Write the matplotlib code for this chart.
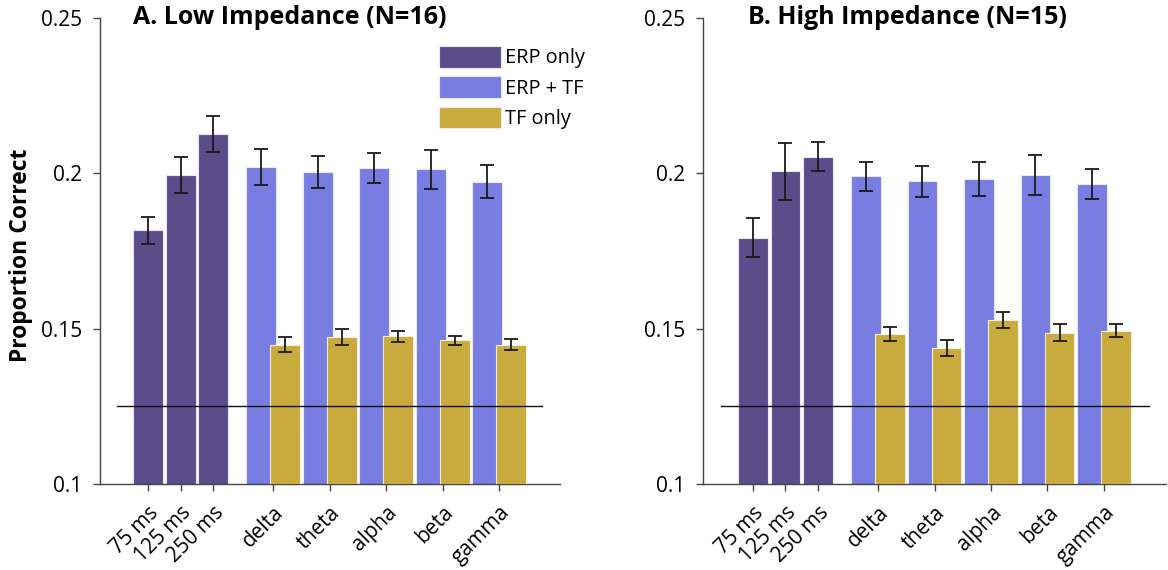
import matplotlib
matplotlib.use("Agg")
import matplotlib.pyplot as plt
from matplotlib.patches import Patch
import numpy as np

plt.rcParams['font.family'] = ['Open Sans', 'DejaVu Sans']

erp_labels = ['75 ms', '125 ms', '250 ms']
band_labels = ['delta', 'theta', 'alpha', 'beta', 'gamma']
legend_labels = ['ERP only', 'ERP + TF', 'TF only']
titles = ['A. Low Impedance (N=16)', 'B. High Impedance (N=15)']
chance = 0.125

a_erp = [0.1816, 0.1994, 0.2128]
a_erp_err = [0.0044, 0.0057, 0.0058]
a_both = [0.2020, 0.2005, 0.2018, 0.2013, 0.1973]
a_both_err = [0.0057, 0.0052, 0.0048, 0.0063, 0.0054]
a_tf = [0.1449, 0.1473, 0.1475, 0.1462, 0.1449]
a_tf_err = [0.0023, 0.0025, 0.0017, 0.0016, 0.0017]

b_erp = [0.1793, 0.2006, 0.2054]
b_erp_err = [0.0062, 0.0093, 0.0046]
b_both = [0.1990, 0.1975, 0.1982, 0.1994, 0.1966]
b_both_err = [0.0047, 0.0050, 0.0056, 0.0064, 0.0048]
b_tf = [0.1483, 0.1438, 0.1528, 0.1487, 0.1494]
b_tf_err = [0.0023, 0.0027, 0.0027, 0.0027, 0.0021]

c_erp = '#5b4c8a'
c_both = '#777de1'
c_tf = '#c9aa3d'

W, H = 1168, 570
fig = plt.figure(figsize=(W / 100, H / 100), dpi=100)

def fx(px):
    return px / W

def fy(py):
    return 1 - py / H

axA = fig.add_axes([fx(100), fy(484), fx(560 - 100), fy(18) - fy(484)])
axB = fig.add_axes([fx(703), fy(484), fx(1166 - 703), fy(18) - fy(484)])

erp_x = np.arange(3)
grp_x = 3.85 + 1.74 * np.arange(5)
off = 0.37
bw = 0.92

panels = [
    (axA, a_erp, a_erp_err, a_both, a_both_err, a_tf, a_tf_err, (-1.48, 12.68), (-0.95, 12.12)),
    (axB, b_erp, b_erp_err, b_both, b_both_err, b_tf, b_tf_err, (-1.54, 12.72), (-0.98, 12.2)),
]

ekw = dict(ecolor='#1a1a1a', elinewidth=1.3, capsize=5, capthick=1.3)
for i, (ax, e, ee, bo, boe, tf, tfe, xl, hl) in enumerate(panels):
    ax.bar(erp_x, e, width=bw, bottom=0, color=c_erp, edgecolor='#e8e6f5', linewidth=0.8,
           yerr=ee, error_kw=ekw, zorder=2)
    ax.bar(grp_x - off, bo, width=bw, color=c_both, edgecolor='#e6e8fb', linewidth=0.8,
           yerr=boe, error_kw=ekw, zorder=2)
    ax.bar(grp_x + off, tf, width=bw, color=c_tf, edgecolor='#f5eed6', linewidth=0.8,
           yerr=tfe, error_kw=ekw, zorder=3)
    ax.plot(list(hl), [chance, chance], color='#111111', lw=1.0, zorder=5)
    ax.set_ylim(0.1, 0.25)
    ax.set_xlim(*xl)
    ax.set_yticks([0.1, 0.15, 0.2, 0.25])
    ax.set_yticklabels(['0.1', '0.15', '0.2', '0.25'])
    ax.set_xticks(list(erp_x) + list(grp_x))
    ax.set_xticklabels(erp_labels + band_labels, rotation=45, ha='right',
                       rotation_mode='anchor')
    ax.tick_params(axis='both', labelsize=15, colors='#000000', length=5,
                   width=1.0, direction='out')
    ax.tick_params(axis='y', pad=8, color='#444444')
    ax.tick_params(axis='x', pad=8, color='#444444')
    for s in ['top', 'right']:
        ax.spines[s].set_visible(False)
    for s in ['left', 'bottom']:
        ax.spines[s].set_color('#444444')
        ax.spines[s].set_linewidth(1.0)
    ax.text(0.072 if i == 0 else 0.098, 1.0, titles[i], transform=ax.transAxes,
            fontsize=18, fontweight='bold', ha='left', va='center')

axA.set_ylabel('Proportion Correct', fontsize=16.5, fontweight='bold')
axA.yaxis.set_label_coords(-0.145, 0.49)

handles = [Patch(facecolor=c, edgecolor='#e8e8f0', linewidth=0.8) for c in (c_erp, c_both, c_tf)]
fig.legend(handles, legend_labels, loc='upper left',
           bbox_to_anchor=(fx(433), fy(40)), frameon=False, fontsize=14.3,
           handlelength=3.1, handleheight=1.3, labelspacing=0.4, handletextpad=0.25,
           borderaxespad=0, borderpad=0.3)

fig.savefig('out.png', dpi=100)
